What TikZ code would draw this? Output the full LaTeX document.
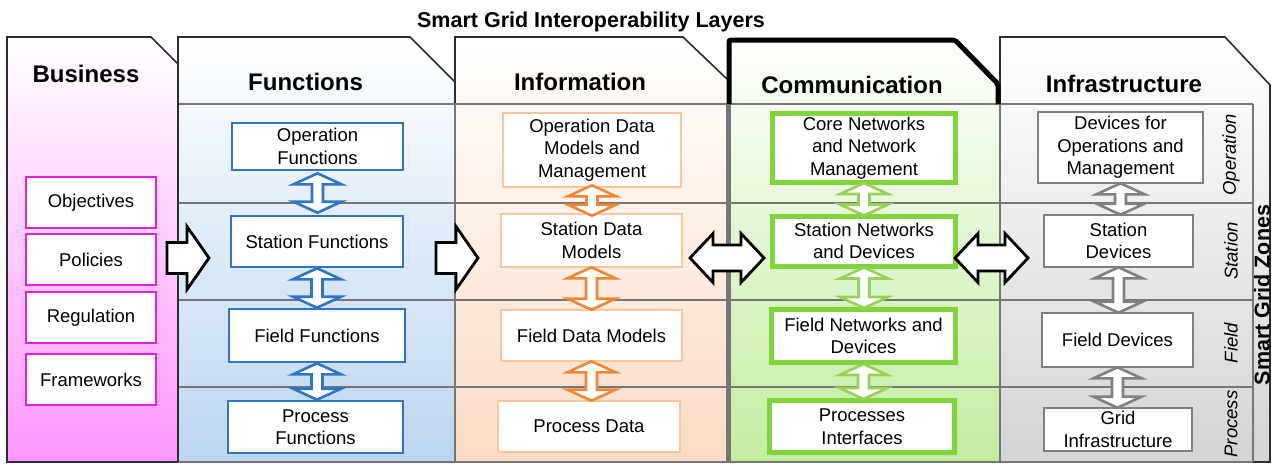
\documentclass[tikz,border=0pt]{standalone}
\usepackage{fontspec}
\setmainfont{Liberation Sans}
\usetikzlibrary{calc}
\definecolor{fnblue}{RGB}{46,117,199}
\definecolor{fnbg}{RGB}{188,214,240}
\definecolor{inborder}{RGB}{249,198,158}
\definecolor{inarrow}{RGB}{240,135,55}
\definecolor{inbg}{RGB}{251,220,198}
\definecolor{cmgreen}{RGB}{128,212,60}
\definecolor{cmarrow}{RGB}{150,210,85}
\definecolor{cmbg}{RGB}{196,236,160}
\definecolor{ifgray}{RGB}{128,128,128}
\definecolor{ifbg}{RGB}{212,212,212}
\definecolor{bzmag}{RGB}{228,30,228}
\definecolor{bzbg}{RGB}{255,150,255}
\definecolor{gridgray}{RGB}{118,118,118}
\definecolor{outl}{RGB}{45,45,45}
\newcommand\boxfont{\fontsize{18.5}{22.5}\selectfont}
\tikzset{
  box/.style={draw, fill=white, line width=2.6pt, inner sep=0pt, align=center, font=\boxfont},
  fnbox/.style={box, draw=fnblue},
  inbox/.style={box, draw=inborder},
  cmbox/.style={box, draw=cmgreen, line width=5pt},
  ifbox/.style={box, draw=ifgray},
  bzbox/.style={box, draw=bzmag},
  hdr/.style={anchor=base, font=\fontsize{24}{28}\selectfont\bfseries},
  zonelbl/.style={rotate=90, font=\fontsize{18.5}{22}\selectfont\itshape},
  gridline/.style={draw=gridgray, line width=2.6pt},
  panel/.style={draw=outl, line width=1.6pt, line join=miter},
  varr/.style={draw=#1, fill=white, line width=2.6pt, line join=miter},
  harr/.style={draw=black, fill=white, line width=2.8pt, line join=miter},
}
% vertical double block arrow between two nodes
\newcommand\vdarr[4][0]{%
  \path[#2] let \p1=(#3.south), \p2=(#4.north) in
   (\x1,\y1+#1pt) -- (\x1+24pt,\y1+#1pt-11pt) -- (\x1+5.5pt,\y1+#1pt-11pt)
   -- (\x1+5.5pt,\y2-#1pt+11pt) -- (\x1+24pt,\y2-#1pt+11pt) -- (\x1,\y2-#1pt)
   -- (\x1-24pt,\y2-#1pt+11pt) -- (\x1-5.5pt,\y2-#1pt+11pt)
   -- (\x1-5.5pt,\y1+#1pt-11pt) -- (\x1-24pt,\y1+#1pt-11pt) -- cycle;}
% single horizontal block arrow
\newcommand\hsarr[2]{%
  \path[harr] let \p1=(#1), \p2=(#2) in
   (\x1,\y1+15.5pt) -- (\x2-22pt,\y1+15.5pt) -- (\x2-22pt,\y1+31.5pt) -- (\x2,\y1)
   -- (\x2-22pt,\y1-31.5pt) -- (\x2-22pt,\y1-15.5pt) -- (\x1,\y1-15.5pt) -- cycle;}
% double horizontal block arrow
\newcommand\hdarr[2]{%
  \path[harr] let \p1=(#1), \p2=(#2) in
   (\x1,\y1) -- (\x1+23pt,\y1+24.5pt) -- (\x1+23pt,\y1+13pt) -- (\x2-23pt,\y1+13pt)
   -- (\x2-23pt,\y1+24.5pt) -- (\x2,\y1) -- (\x2-23pt,\y1-24.5pt) -- (\x2-23pt,\y1-13pt)
   -- (\x1+23pt,\y1-13pt) -- (\x1+23pt,\y1-24.5pt) -- cycle;}
\begin{document}
\begin{tikzpicture}[x=1pt,y=-1pt]
\useasboundingbox[fill=white] (0,0) rectangle (1272,464);

% ---- panels ----
\shade[top color=white, bottom color=bzbg] (7,37) -- (151,37) -- (178,64) -- (178,462) -- (7,462) -- cycle;
\shade[top color=white, bottom color=fnbg] (178,37) -- (410,37) -- (455,82) -- (455,462) -- (178,462) -- cycle;
\shade[top color=white, bottom color=inbg] (455,37) -- (683,37) -- (728,80) -- (728,462) -- (455,462) -- cycle;
\shade[top color=white, bottom color=cmbg] (728,37) -- (955,37) -- (999,82) -- (999,462) -- (728,462) -- cycle;
\shade[top color=white, bottom color=ifbg] (1000,37) -- (1225,37) -- (1270,85) -- (1270,462) -- (1000,462) -- cycle;

\path[panel] (7,37) -- (151,37) -- (178,64) -- (178,462) -- (7,462) -- cycle;
\path[panel] (178,104) -- (178,37) -- (410,37) -- (455,82) -- (455,104);
\path[panel] (455,104) -- (455,37) -- (683,37) -- (728,80) -- (728,104);
\path[panel] (1000,104) -- (1000,37) -- (1225,37) -- (1270,85) -- (1270,462) -- (1253,462);

% ---- zone grid ----
\foreach \yy in {104,203,300,387,462} \draw[gridline] (178,\yy) -- (1253,\yy);
\draw[gridline] (455,104) -- (455,462);
\draw[gridline, line width=5pt] (728,104) -- (728,462);
\draw[gridline] (1000,104) -- (1000,462);
\draw[gridline] (1253,104) -- (1253,462);
\draw[panel] (178,64) -- (178,462);

% communication highlight outline
\draw[line width=5pt, rounded corners=2pt] (729,104) -- (729,40) -- (955,40) -- (998,84) -- (998,104);

% ---- title and headers ----
\node[anchor=base, font=\fontsize{21.5}{25}\selectfont\bfseries] (title) at (591,27) {Smart Grid Interoperability Layers};
\node[hdr] (hbus) at (86,82) {Business};
\node[hdr] (hfun) at (305.5,90) {Functions};
\node[hdr] (hinf) at (580,90) {Information};
\node[hdr] (hcom) at (852,93) {Communication};
\node[hdr] (hinfra) at (1124,92) {Infrastructure};

% ---- zone labels ----
\node[zonelbl] (zop) at (1231,155) {Operation};
\node[zonelbl] (zst) at (1231,251) {Station};
\node[zonelbl] (zfi) at (1231,343) {Field};
\node[zonelbl] (zpr) at (1231,424) {Process};
\node[rotate=90, font=\fontsize{21.5}{25}\selectfont\bfseries] (zones) at (1262,295) {Smart Grid Zones};

% ---- business boxes ----
\node[bzbox, minimum width=130pt, minimum height=51pt] (b1) at (91,202.5) {Objectives};
\node[bzbox, minimum width=130pt, minimum height=51pt] (b2) at (91,259.5) {Policies};
\node[bzbox, minimum width=130pt, minimum height=51pt] (b3) at (91,317.5) {Regulation};
\node[bzbox, minimum width=130pt, minimum height=51pt] (b4) at (91,379.5) {Frameworks};

% ---- functions ----
\node[fnbox, minimum width=171pt, minimum height=47pt] (fo) at (317.5,146.5) {Operation\\Functions};
\node[fnbox, minimum width=172pt, minimum height=51pt] (fs) at (317,241.5) {Station Functions};
\node[fnbox, minimum width=176pt, minimum height=53pt] (ff) at (317,335.5) {Field Functions};
\node[fnbox, minimum width=175pt, minimum height=52pt] (fp) at (315.5,427) {Process\\Functions};

% ---- information ----
\node[inbox, minimum width=178pt, minimum height=74pt] (io) at (592,150) {Operation Data\\Models and\\Management};
\node[inbox, minimum width=181pt, minimum height=53pt] (is) at (591.5,240.5) {Station Data\\Models};
\node[inbox, minimum width=181pt, minimum height=51pt] (if) at (591.5,335.5) {Field Data Models};
\node[inbox, minimum width=182pt, minimum height=51pt] (ip) at (589,426.5) {Process Data};

% ---- communication ----
\node[cmbox, minimum width=183pt, minimum height=69pt] (co) at (864,148) {Core Networks\\and Network\\Management};
\node[cmbox, minimum width=183pt, minimum height=50pt] (cs) at (864,241) {Station Networks\\and Devices};
\node[cmbox, minimum width=184pt, minimum height=53pt] (cf) at (863.5,336) {Field Networks and\\Devices};
\node[cmbox, minimum width=185pt, minimum height=52pt] (cp) at (862,426.5) {Processes\\Interfaces};

% ---- infrastructure ----
\node[ifbox, minimum width=165pt, minimum height=71pt] (xo) at (1120.5,147.5) {Devices for\\Operations and\\Management};
\node[ifbox, minimum width=149pt, minimum height=52pt] (xs) at (1118.5,241) {Station\\Devices};
\node[ifbox, minimum width=151pt, minimum height=54pt] (xf) at (1117.5,340) {Field Devices};
\node[ifbox, minimum width=148pt, minimum height=43pt] (xp) at (1118,429.5) {Grid\\Infrastructure};

% ---- vertical double arrows ----
\vdarr[-2]{varr=fnblue}{fo}{fs}
\vdarr{varr=fnblue}{fs}{ff}
\vdarr{varr=fnblue}{ff}{fp}
\vdarr[3]{varr=inarrow}{io}{is}
\vdarr[1]{varr=inarrow}{is}{if}
\vdarr[1]{varr=inarrow}{if}{ip}
\vdarr[2]{varr=cmarrow}{co}{cs}
\vdarr[1]{varr=cmarrow}{cs}{cf}
\vdarr[1]{varr=cmarrow}{cf}{cp}
\vdarr[1]{varr=ifgray}{xo}{xs}
\vdarr[1]{varr=ifgray}{xs}{xf}
\vdarr[1]{varr=ifgray}{xf}{xp}

% ---- horizontal block arrows ----
\coordinate (a1s) at (167,258); \coordinate (a1e) at (209,258);
\coordinate (a2s) at (436,258); \coordinate (a2e) at (478,258);
\coordinate (a3s) at (690,258); \coordinate (a3e) at (764,258);
\coordinate (a4s) at (955,258); \coordinate (a4e) at (1028,258);
\hsarr{a1s}{a1e}
\hsarr{a2s}{a2e}
\hdarr{a3s}{a3e}
\hdarr{a4s}{a4e}
\end{tikzpicture}
\end{document}
